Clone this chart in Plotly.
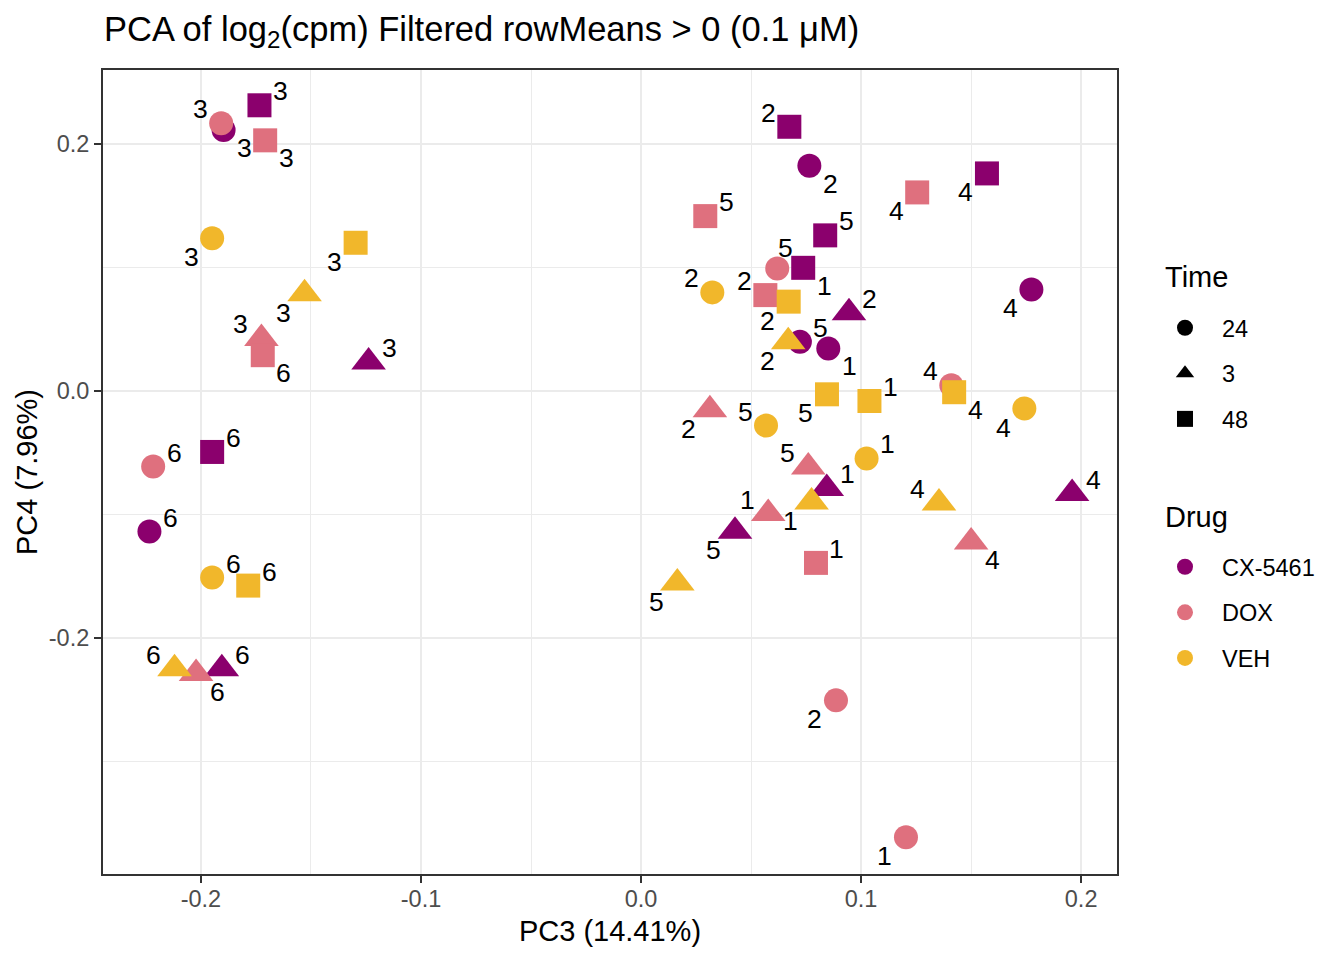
import plotly.graph_objects as go

# ---------------- data ----------------
drug_levels = ["CX-5461", "DOX", "VEH"]
time_levels = ["24", "3", "48"]

drug = (["CX-5461"] * 18) + (["DOX"] * 18) + (["VEH"] * 18)
time = (["24"] * 6 + ["3"] * 6 + ["48"] * 6) * 3
individual = [1, 2, 3, 4, 5, 6] * 9

pc3 = [
    # CX-5461 24
    0.0851, 0.0765, -0.1897, 0.1774, 0.0722, -0.2234,
    # CX-5461 3
    0.0844, 0.0945, -0.1238, 0.1959, 0.0427, -0.1905,
    # CX-5461 48
    0.0737, 0.0674, -0.1734, 0.1572, 0.0837, -0.1949,
    # DOX 24
    0.1204, 0.0886, -0.1908, 0.1410, 0.0619, -0.2217,
    # DOX 3
    0.0578, 0.0313, -0.1725, 0.1500, 0.0760, -0.2022,
    # DOX 48
    0.0795, 0.0565, -0.1708, 0.1255, 0.0292, -0.1719,
    # VEH 24
    0.1025, 0.0324, -0.1949, 0.1742, 0.0568, -0.1949,
    # VEH 3
    0.0775, 0.0669, -0.1529, 0.1354, 0.0165, -0.2120,
    # VEH 48
    0.1038, 0.0671, -0.1297, 0.1423, 0.0845, -0.1785,
]
pc4 = [
    0.0344, 0.1824, 0.2113, 0.0822, 0.0397, -0.1140,
    -0.0791, 0.0632, 0.0234, -0.0832, -0.1137, -0.2251,
    0.0997, 0.2140, 0.2314, 0.1762, 0.1260, -0.0495,
    -0.3618, -0.2508, 0.2168, 0.0046, 0.0992, -0.0613,
    -0.0994, -0.0154, 0.0425, -0.1224, -0.0616, -0.2291,
    -0.1394, 0.0776, 0.2030, 0.1608, 0.1416, 0.0289,
    -0.0548, 0.0798, 0.1236, -0.0143, -0.0281, -0.1513,
    -0.0900, 0.0397, 0.0786, -0.0908, -0.1557, -0.2251,
    -0.0082, 0.0723, 0.1200, -0.0011, -0.0028, -0.1578,
]
# side of each repelled label relative to its point
label_side = [
    "lr", "lr", "lr", "ll", "ur", "ur",
    "ur", "ur", "ur", "ur", "ll", "ur",
    "lr", "ul", "ur", "ll", "ur", "ur",
    "ll", "ll", "ul", "ul", "u", "ur",
    "ul", "ll", "ul", "lr", "ul", "lr",
    "ur", "ul", "lr", "ll", "ur", "lr",
    "ur", "ul", "ll", "ll", "ul", "ur",
    "ll", "ll", "ll", "ul", "ll", "ul",
    "ur", "ll", "ll", "lr", "ll", "ur",
]

x_ticks = [-0.2, -0.1, 0.0, 0.1, 0.2]
x_tick_labels = ["-0.2", "-0.1", "0.0", "0.1", "0.2"]
y_ticks = [-0.2, 0.0, 0.2]
y_tick_labels = ["-0.2", "0.0", "0.2"]

# ---------------- style ----------------
FONT = "Liberation Sans, Arial, sans-serif"
colors = {"CX-5461": "#8B006D", "DOX": "#DF707E", "VEH": "#F1B72B"}
symbols = {"24": "circle", "3": "triangle-up", "48": "square"}
sizes = {"24": 24, "3": 30, "48": 24}
side_shift = {"ur": (21, 14), "ul": (-21, 14), "lr": (21, -18), "ll": (-21, -19), "u": (8, 20)}

OFF = 8  # page body margin
W, H = 1344 - OFF, 960 - OFF
L, T = 103 - OFF, 70 - OFF
R, B = W - (1117 - OFF), H - (874 - OFF)
PW, PH = W - L - R, H - T - B


def px_to_paper(px, py):
    return (px - OFF - L) / PW, (H - B - (py - OFF)) / PH


fig = go.Figure()
n = len(pc3)
for d in drug_levels:
    idx = [i for i in range(n) if drug[i] == d]
    fig.add_trace(go.Scatter(
        x=[pc3[i] for i in idx], y=[pc4[i] for i in idx], mode="markers",
        marker=dict(color=colors[d], symbol=[symbols[time[i]] for i in idx],
                    size=[sizes[time[i]] for i in idx], opacity=1, line=dict(width=0)),
        showlegend=False, hoverinfo="skip"))

# legend entries
for t in time_levels:
    fig.add_trace(go.Scatter(
        x=[None], y=[None], mode="markers", name=t, legend="legend", legendgroup="t" + t,
        marker=dict(color="black", symbol=symbols[t], size=16, opacity=1)))
for d in drug_levels:
    fig.add_trace(go.Scatter(
        x=[None], y=[None], mode="markers", name=d, legend="legend2", legendgroup="d" + d,
        marker=dict(color=colors[d], symbol="circle", size=16, opacity=1)))

annotations = []
for i in range(n):
    dx, dy = side_shift[label_side[i]]
    annotations.append(dict(
        x=pc3[i], y=pc4[i], xref="x", yref="y", text=str(individual[i]), showarrow=False,
        xshift=dx, yshift=dy, xanchor="center", yanchor="middle",
        font=dict(size=26.5, color="black", family=FONT)))

for title, (px, py) in [("Time", (1163, 277)), ("Drug", (1163, 517))]:
    ax, ay = px_to_paper(px, py)
    annotations.append(dict(
        x=ax, y=ay, xref="paper", yref="paper", text=title, showarrow=False,
        xanchor="left", yanchor="middle", font=dict(size=29, color="black", family=FONT)))

axis_common = dict(
    showgrid=True, gridcolor="#EBEBEB", gridwidth=2, zeroline=False,
    showline=True, linecolor="#333333", linewidth=2, mirror=True,
    ticks="outside", ticklen=7, tickwidth=2, tickcolor="#333333",
    tickfont=dict(size=23.5, color="#4D4D4D", family=FONT), tickmode="array",
)

ITEMW = 64
leg_x = (1185 - (ITEMW + 10) / 2 - OFF) / W

fig.update_layout(
    width=W, height=H,
    margin=dict(l=L, r=R, t=T, b=B, autoexpand=False),
    paper_bgcolor="white", plot_bgcolor="white",
    font=dict(family=FONT, color="black"),
    title=dict(text="PCA of log<sub>2</sub>(cpm) Filtered rowMeans > 0 (0.1 μM)",
               xref="container", yref="container", x=(104 - OFF) / W, xanchor="left",
               y=1 - (29 - OFF) / H, yanchor="middle",
               font=dict(size=34.5, color="black", family=FONT)),
    xaxis=dict(range=[-0.2445, 0.2163], tickvals=x_ticks, ticktext=x_tick_labels,
               ticklabelstandoff=-4,
               minor=dict(tickmode="linear", tick0=0, dtick=0.05, showgrid=True,
                          gridcolor="#EBEBEB", gridwidth=1, ticks=""),
               title=dict(text="PC3 (14.41%)", font=dict(size=29, color="black", family=FONT), standoff=9),
               **axis_common),
    yaxis=dict(range=[-0.3915, 0.26], tickvals=y_ticks, ticktext=y_tick_labels,
               minor=dict(tickmode="linear", tick0=0, dtick=0.1, showgrid=True,
                          gridcolor="#EBEBEB", gridwidth=1, ticks=""),
               title=dict(text="PC4 (7.96%)", font=dict(size=29, color="black", family=FONT), standoff=3),
               **axis_common),
    legend=dict(xref="container", yref="container", x=leg_x, xanchor="left",
                y=1 - (306 - OFF) / H, yanchor="top", font=dict(size=23.5, color="black", family=FONT),
                tracegroupgap=12, traceorder="grouped", bgcolor="rgba(0,0,0,0)", itemwidth=ITEMW),
    legend2=dict(xref="container", yref="container", x=leg_x, xanchor="left",
                 y=1 - (545 - OFF) / H, yanchor="top", font=dict(size=23.5, color="black", family=FONT),
                 tracegroupgap=12, traceorder="grouped", bgcolor="rgba(0,0,0,0)", itemwidth=ITEMW),
    annotations=annotations,
    showlegend=True,
)

fig.write_html("out.html")
